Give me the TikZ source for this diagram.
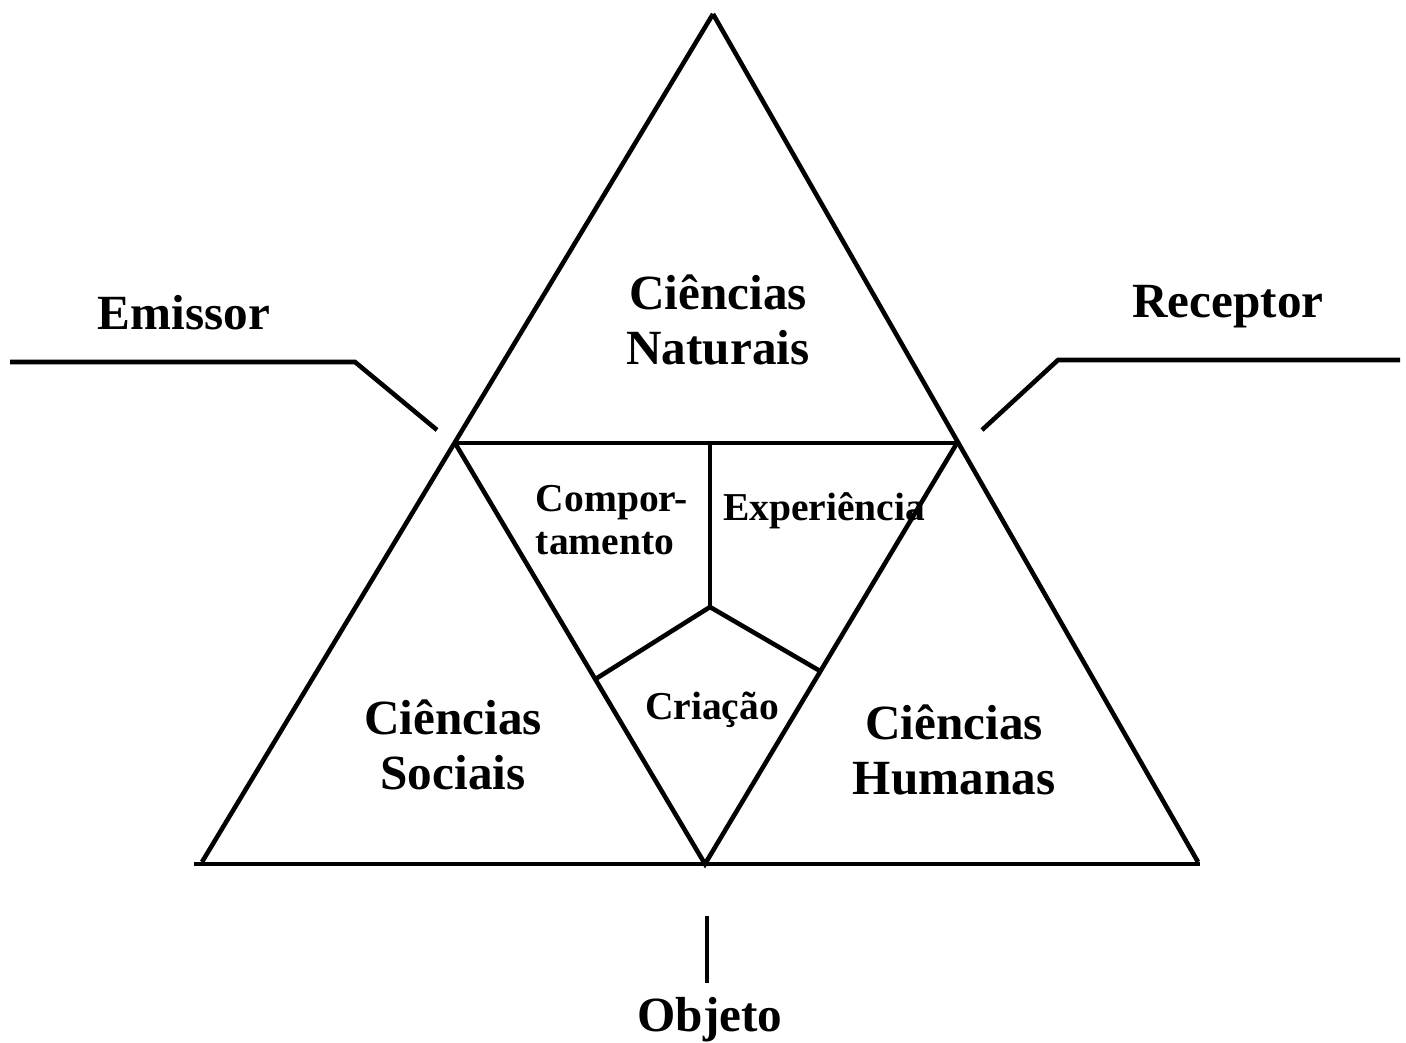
\documentclass[tikz,border=0pt]{standalone}
\usepackage{fontspec}
\setmainfont{Liberation Serif}
\usepackage{tikz}

\begin{document}
\begin{tikzpicture}[x=0.02cm, y=-0.02cm, line width=2.6pt,
    big/.style={font=\fontsize{28}{31}\selectfont\bfseries, align=center},
    small/.style={font=\fontsize{22.5}{24.5}\selectfont\bfseries, align=center}]
    \useasboundingbox (0, 0) rectangle (1406, 1043);
    % vertices of the triangles
    \coordinate (top) at (713, 14);
    \coordinate (nl) at (455, 443);
    \coordinate (nr) at (957, 443);
    \coordinate (bl) at (202, 862);
    \coordinate (bm) at (705, 864);
    \coordinate (br) at (1198, 862);
    \coordinate (b0) at (194, 864);
    \coordinate (b1) at (1200, 864);
    \coordinate (mt) at (710, 443);
    \coordinate (c) at (710, 607);
    \coordinate (ml) at (594, 680);
    \coordinate (mr) at (820, 671);
    % side strokes
    \coordinate (e0) at (10, 362);
    \coordinate (e1) at (355, 362);
    \coordinate (e2) at (437, 430);
    \coordinate (r0) at (1400, 360);
    \coordinate (r1) at (1058, 360);
    \coordinate (r2) at (982, 430);
    \coordinate (o0) at (707, 916);
    \coordinate (o1) at (707, 983);
    % labels
    \node[big] (nat) at (718, 320) {Ciências\\Naturais};
    \node[big] (soc) at (453, 745) {Ciências\\Sociais};
    \node[big] (hum) at (954, 750) {Ciências\\Humanas};
    \node[big] (emi) at (184, 313) {Emissor};
    \node[big] (rec) at (1228, 307) {Receptor};
    \node[big] (obj) at (710, 1020) {Objeto};
    \node[small, align=left] (com) at (612, 520) {Compor-\\tamento};
    \node[small] (exp) at (824, 511) {Experiência};
    \node[small] (cri) at (712, 710) {Criação};
    % triangles
    \draw (top) -- (bl);
    \draw (top) -- (br);
    \draw (nl) -- (nr);
    \draw (nl) -- (bm) -- (nr);
    \draw (b0) -- (b1);
    \draw (mt) -- (c);
    \draw (c) -- (ml);
    \draw (c) -- (mr);
    \draw (e0) -- (e1) -- (e2);
    \draw (r0) -- (r1) -- (r2);
    \draw (o0) -- (o1);
\end{tikzpicture}
\end{document}
